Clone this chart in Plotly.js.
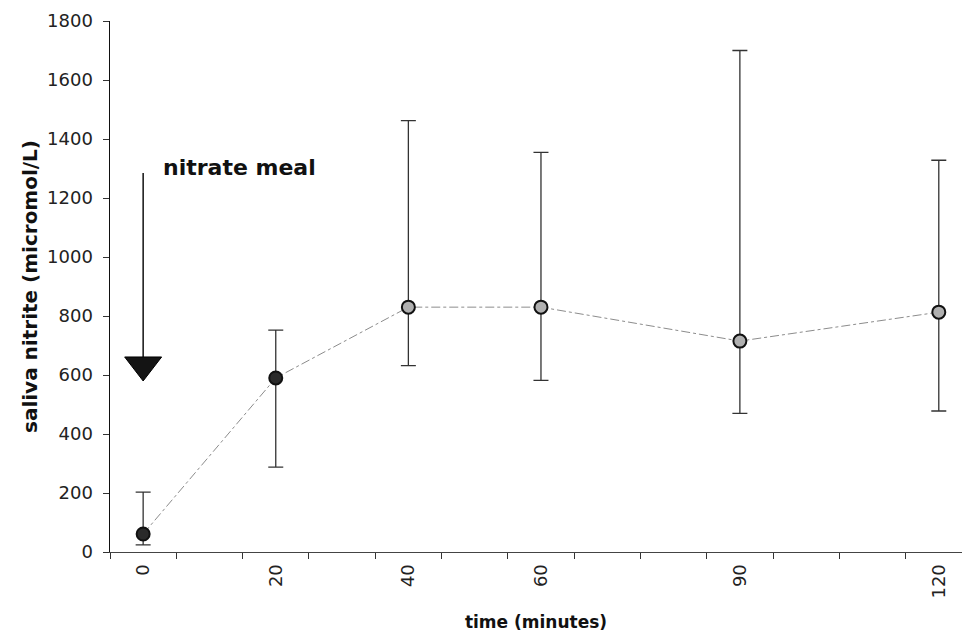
<!DOCTYPE html>
<html>
<head>
<meta charset="utf-8">
<script src="https://cdn.plot.ly/plotly-3.0.1.min.js"></script>
<style>html,body{margin:0;padding:0;background:#fff;}#chart{width:962px;height:638px;}</style>
</head>
<body>
<div id="chart"></div>
<script>
// Data
const times = [0, 20, 40, 60, 90, 120];
const tickLabels = ["0", "20", "40", "60", "90", "120"];
const nitriteMean = [61, 590, 830, 830, 715, 813];
const errUpper = [203, 752, 1462, 1355, 1700, 1328];
const errLower = [24, 288, 632, 582, 470, 478];
const arrowX = [0, 0];
const arrowY = [1285, 634];
const mealLabel = "nitrate meal";

const plus = nitriteMean.map((m, i) => errUpper[i] - m);
const minus = nitriteMean.map((m, i) => m - errLower[i]);

const traces = [
  {
    x: times, y: nitriteMean, type: 'scatter', mode: 'lines+markers',
    line: {color: '#8c8c8c', width: 1, dash: 'dashdot'},
    marker: {symbol: 'circle', size: 13,
      color: ['#2a2a2a', '#2a2a2a', '#b0b0b0', '#b0b0b0', '#b0b0b0', '#b0b0b0'],
      line: {color: '#111', width: 2}},
    error_y: {type: 'data', symmetric: false, array: plus, arrayminus: minus,
      color: '#333', thickness: 1.3, width: 7.5},
    showlegend: false, hoverinfo: 'x+y'
  },
  {
    x: arrowX, y: arrowY, type: 'scatter', mode: 'lines+markers',
    line: {color: '#111', width: 1.5},
    marker: {symbol: ['circle', 'triangle-down'], size: [0, 32], color: '#141414',
      opacity: 1, line: {color: '#000', width: 1}},
    showlegend: false, hoverinfo: 'skip'
  }
];

const layout = {
  width: 962, height: 638,
  margin: {l: 110, r: 0, t: 21, b: 86},
  paper_bgcolor: '#fff', plot_bgcolor: '#fff',
  font: {family: 'DejaVu Sans, sans-serif', color: '#222'},
  xaxis: {
    range: [-5, 123.5],
    tickmode: 'array', tickvals: times, ticktext: tickLabels,
    tickangle: -90, ticks: '', showgrid: false, zeroline: false,
    showline: true, linecolor: '#444', linewidth: 1,
    tickfont: {size: 18, color: '#222'},
    ticklabelstandoff: 4,
    minor: {tick0: 5, dtick: 10, ticks: 'outside', ticklen: 6, tickcolor: '#333', showgrid: false},
    title: {text: '<b>time (minutes)</b>', font: {size: 17, color: '#111'}, standoff: 18}
  },
  yaxis: {
    range: [0, 1800], tickmode: 'linear', tick0: 0, dtick: 200,
    ticks: 'outside', ticklen: 6, tickcolor: '#333',
    showgrid: false, zeroline: false,
    showline: true, linecolor: '#111', linewidth: 1.5,
    tickfont: {size: 18, color: '#222'},
    ticklabelstandoff: 6,
    title: {text: '<b>saliva nitrite (micromol/L)</b>', font: {size: 20, color: '#111'}, standoff: 4}
  },
  annotations: [{
    x: 2.7, y: 1302, xref: 'x', yref: 'y', xanchor: 'left', yanchor: 'middle',
    text: '<b>' + mealLabel + '</b>', showarrow: false,
    font: {size: 22, color: '#111'}
  }]
};

Plotly.newPlot('chart', traces, layout, {displayModeBar: false, staticPlot: true});
</script>
</body>
</html>
